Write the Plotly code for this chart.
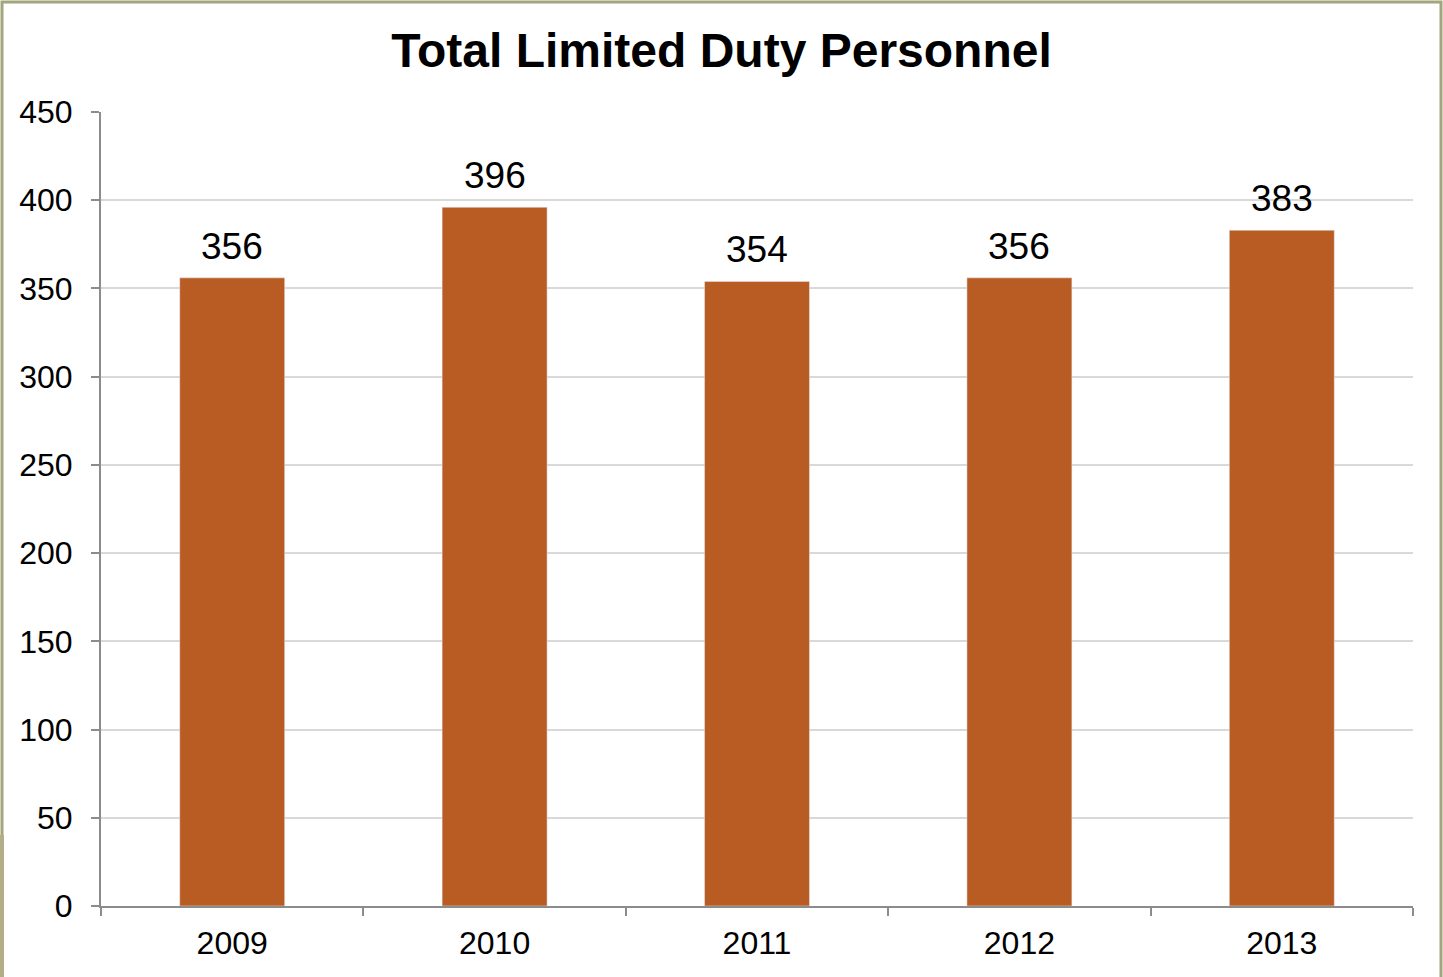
import plotly.graph_objects as go

years = ['2009', '2010', '2011', '2012', '2013']
personnel = [356, 396, 354, 356, 383]
y_ticks = [0, 50, 100, 150, 200, 250, 300, 350, 400, 450]

bar_color = 'rgb(185,92,36)'
font_name = 'Liberation Sans, Arial, sans-serif'

fig = go.Figure()

fig.add_trace(go.Bar(
    x=years,
    y=personnel,
    width=0.4,
    marker_color=bar_color,
))

# value labels above the bars (x given as category index)
for i, v in enumerate(personnel):
    fig.add_annotation(x=i, y=v, xref='x', yref='y', text=str(v), showarrow=False,
                       yanchor='bottom', yshift=9,
                       font=dict(size=37, color='black', family=font_name))

fig.update_layout(
    width=1443, height=977,
    margin=dict(l=101, r=30, t=112, b=71),
    paper_bgcolor='white',
    plot_bgcolor='white',
    showlegend=False,
    font=dict(family=font_name, color='black'),
    title=dict(text='<b>Total Limited Duty Personnel</b>', x=0.5, xref='container',
               y=0.949, yref='container', yanchor='middle',
               font=dict(size=48, color='black', family=font_name)),
    xaxis=dict(type='category', range=[-0.5, len(years) - 0.5],
               showline=True, linecolor='#8c8c8c', linewidth=2,
               ticks='outside', tickson='boundaries', ticklen=8, tickcolor='#8c8c8c',
               tickwidth=2, tickfont=dict(size=32), showgrid=False, ticklabelstandoff=8,
               automargin=False),
    yaxis=dict(range=[0, 450], tickvals=y_ticks, showline=True, linecolor='#8c8c8c', linewidth=2,
               ticks='outside', ticklen=8, tickcolor='#8c8c8c', tickwidth=2,
               gridcolor='#d9d9d9', gridwidth=2, tickfont=dict(size=32), zeroline=False,
               ticklabelstandoff=12, automargin=False),
)

# page border
fig.add_shape(type='rect', xref='paper', yref='paper',
              x0=(2 - 101) / 1312, x1=(1441 - 101) / 1312,
              y0=-80 / 794, y1=1 + 110 / 794,
              line=dict(color='#a3a67c', width=3))
# strip at the lower left edge
fig.add_shape(type='rect', xref='paper', yref='paper',
              x0=-101 / 1312, x1=(4 - 101) / 1312,
              y0=-71 / 794, y1=(906 - 835) / 794,
              line=dict(width=0), fillcolor='#b3ae88')

fig.write_html('out.html', config={'displayModeBar': False},
               post_script="document.body.style.margin='0';")
